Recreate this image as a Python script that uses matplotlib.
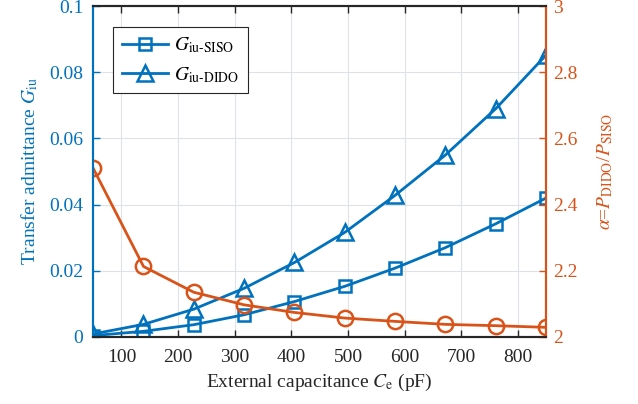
import numpy as np
import matplotlib.pyplot as plt

plt.rcParams['font.family'] = ['Liberation Serif', 'DejaVu Serif']
plt.rcParams['mathtext.fontset'] = 'stix'

# external capacitance (pF)
ce = [50, 138.9, 227.8, 316.7, 405.6, 494.4, 583.3, 672.2, 761.1, 850]
g_siso = [0.0004, 0.0017, 0.0037, 0.0067, 0.0107, 0.0153, 0.0208, 0.0270, 0.0342, 0.0420]
g_dido = [0.0009, 0.0038, 0.0084, 0.0147, 0.0225, 0.0316, 0.0428, 0.0550, 0.0690, 0.0852]
alpha = [2.51, 2.213, 2.135, 2.097, 2.074, 2.057, 2.047, 2.038, 2.034, 2.029]

blue = '#0072BD'
orange = '#D95319'

fig = plt.figure(figsize=(6.38, 4.04), dpi=100)
ax = fig.add_axes([0.146, 0.166, 0.710, 0.819])
ax2 = ax.twinx()

ax.plot(ce, g_siso, '-s', color=blue, lw=2, ms=8, mfc='none', mew=1.8,
        label=r'$G_{\mathrm{iu\text{-}SISO}}$')
ax.plot(ce, g_dido, '-^', color=blue, lw=2, ms=11, mfc='none', mew=1.8,
        label=r'$G_{\mathrm{iu\text{-}DIDO}}$')
ax2.plot(ce, alpha, '-o', color=orange, lw=2, ms=11, mfc='none', mew=1.8)

ax.set_xlim(50, 850)
ax.set_ylim(0, 0.1)
ax2.set_ylim(2, 3)
ax.set_xticks(range(100, 900, 100))
ax.set_yticks([0, 0.02, 0.04, 0.06, 0.08, 0.1])
ax.set_yticklabels(['0', '0.02', '0.04', '0.06', '0.08', '0.1'])
ax2.set_yticks([2, 2.2, 2.4, 2.6, 2.8, 3])
ax2.set_yticklabels(['2', '2.2', '2.4', '2.6', '2.8', '3'])

ax.grid(True, color='#dfe3e8', lw=0.8)
ax.set_axisbelow(True)

fs = 14
ax.tick_params(axis='x', direction='in', top=True, labelsize=fs, colors='#262626',
               length=5, width=1, pad=9)
ax.tick_params(axis='y', direction='in', labelsize=fs, colors=blue, length=5, width=1, pad=7)
ax2.tick_params(axis='y', direction='in', labelsize=fs, colors=orange, length=5, width=1, pad=5)
for a in (ax, ax2):
    a.spines['top'].set_color('#262626')
    a.spines['bottom'].set_color('#262626')
    a.spines['left'].set_color(blue)
    a.spines['right'].set_color(orange)
    for s in a.spines.values():
        s.set_linewidth(1.5)

ax.set_xlabel(r'External capacitance $C_{\mathrm{e}}$ (pF)', fontsize=fs, color='#262626')
ax.set_ylabel(r'Transfer admittance $G_{\mathrm{iu}}$', fontsize=fs, color=blue, labelpad=7)
ax2.set_ylabel(r'$\alpha$=$P_{\mathrm{DIDO}}$/$P_{\mathrm{SISO}}$', fontsize=fs, color=orange,
               rotation=90, labelpad=13)

leg = ax.legend(loc='upper left', bbox_to_anchor=(0.044, 0.9375), borderaxespad=0,
                fontsize=fs, handlelength=2.4, handletextpad=0.3, fancybox=False,
                edgecolor='#262626', framealpha=1, borderpad=0.45, labelspacing=0.5)
leg.get_frame().set_linewidth(0.8)

fig.savefig('out.png', dpi=100)
